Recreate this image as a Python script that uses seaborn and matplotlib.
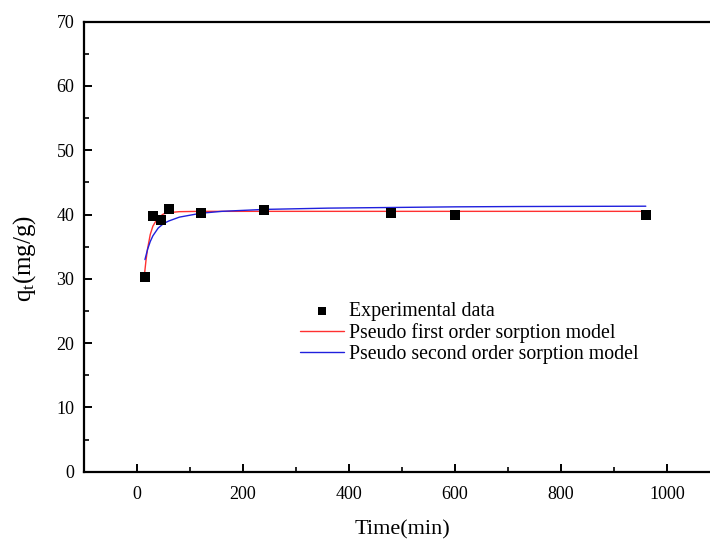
import matplotlib
matplotlib.use("Agg")
import matplotlib.pyplot as plt
import seaborn as sns
import pandas as pd
from matplotlib.ticker import MultipleLocator

# Experimental data
t_exp = [15, 30, 45, 60, 120, 240, 480, 600, 960]
q_exp = [30.3, 39.8, 39.2, 40.8, 40.3, 40.7, 40.2, 40.0, 40.0]

# Pseudo first order model curve
t_pfo = [14, 17, 20, 25, 30, 35, 40, 50, 60, 80, 120, 240, 480, 720, 960]
q_pfo = [30.6, 32.9, 34.7, 36.9, 38.2, 38.9, 39.5, 40.1, 40.3, 40.45, 40.5, 40.5, 40.5, 40.5, 40.5]

# Pseudo second order model curve
t_pso = [15, 20, 25, 30, 40, 50, 60, 80, 120, 160, 240, 360, 480, 600, 720, 960]
q_pso = [33.0, 34.6, 35.8, 36.7, 37.9, 38.6, 39.0, 39.6, 40.2, 40.5, 40.8, 41.0, 41.1, 41.2, 41.25, 41.3]

labels = ["Experimental data", "Pseudo first order sorption model",
          "Pseudo second order sorption model"]

sns.set_theme(style="ticks")
plt.rcParams['font.family'] = ['Liberation Serif', 'DejaVu Serif']
plt.rcParams['mathtext.fontset'] = 'stix'
plt.rcParams['text.color'] = 'black'
plt.rcParams['axes.labelcolor'] = 'black'
plt.rcParams['xtick.color'] = 'black'
plt.rcParams['ytick.color'] = 'black'

fig = plt.figure(figsize=(7.10, 5.41), dpi=100)
ax = fig.add_axes([84/710, 1 - 471.7/541, 636/710, 450/541])

df_exp = pd.DataFrame({"t": t_exp, "q": q_exp})
df_pfo = pd.DataFrame({"t": t_pfo, "q": q_pfo})
df_pso = pd.DataFrame({"t": t_pso, "q": q_pso})

sns.lineplot(data=df_pfo, x="t", y="q", ax=ax, color="#ff3030", lw=1.0,
             label=labels[1], zorder=2, estimator=None)
sns.lineplot(data=df_pso, x="t", y="q", ax=ax, color="#2020dd", lw=1.0,
             label=labels[2], zorder=2, estimator=None)
sns.scatterplot(data=df_exp, x="t", y="q", ax=ax, marker="s", color="black",
                s=60, edgecolor="black", linewidth=0, label=labels[0], zorder=3)

ax.set_xlim(-100, 1100)
ax.set_ylim(0, 70)
ax.xaxis.set_major_locator(MultipleLocator(200))
ax.xaxis.set_minor_locator(MultipleLocator(100))
ax.yaxis.set_major_locator(MultipleLocator(10))
ax.yaxis.set_minor_locator(MultipleLocator(5))
ax.tick_params(which="major", direction="in", length=6, width=1.4,
               labelsize=13, pad=7, top=False, right=False, color="black",
               labelcolor="black")
ax.tick_params(axis="x", which="major", pad=10)
ax.tick_params(which="minor", direction="in", length=3.5, width=1.2,
               top=False, right=False, color="black")
for s in ax.spines.values():
    s.set_linewidth(1.6)
    s.set_color("black")

ax.set_xlabel("Time(min)", fontsize=16, labelpad=13)
ax.set_ylabel(r"$\mathregular{q_t}$(mg/g)", fontsize=18)
ax.yaxis.set_label_coords(-0.072, 0.475)

h, l = ax.get_legend_handles_labels()
order = [l.index(x) for x in labels]
leg = ax.legend([h[i] for i in order], [l[i] for i in order],
                loc="upper left", bbox_to_anchor=(300/710, 1 - 302/541),
                bbox_transform=fig.transFigure, frameon=False, fontsize=14.3,
                handlelength=2.2, handletextpad=0.25, labelspacing=0.1,
                borderpad=0, borderaxespad=0, markerscale=0.8)

fig.savefig("out.png", dpi=100)
